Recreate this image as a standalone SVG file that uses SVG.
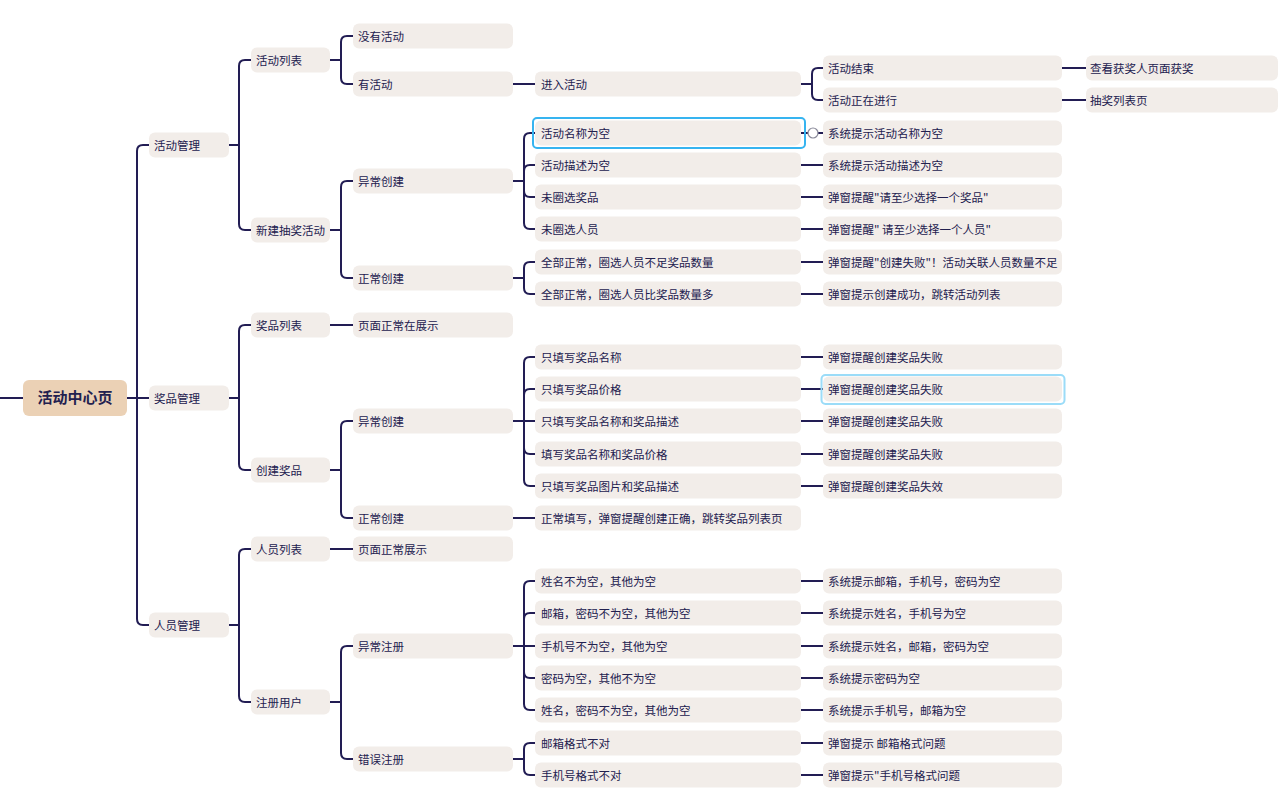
<svg xmlns="http://www.w3.org/2000/svg" width="1287" height="799" viewBox="0 0 1287 799">
<style>
.n rect{fill:#F2EDE9}
text{font-family:"Noto Sans CJK SC","Noto Sans",sans-serif;font-size:11.5px;fill:#22204F}
.n text{transform:translateY(1px)}
.c path{fill:none;stroke:#221D54;stroke-width:2}
.root rect{fill:#EBD1B5}
.root text{font-size:15px;font-weight:bold;text-anchor:middle}
</style>
<rect width="1287" height="799" fill="#fff"/>
<g class="c" id="connectors">
<path d="M0,398 H23 M127,398 H137 M137,398 V151 Q137,145 143,145 H149 M137,398 H149 M137,398 V619 Q137,625 143,625 H149"/>
<path d="M229,145 H239 M239,145 V66 Q239,60 245,60 H251 M239,145 V224 Q239,230 245,230 H251"/>
<path d="M229,398 H239 M239,398 V331 Q239,325 245,325 H251 M239,398 V464 Q239,470 245,470 H251"/>
<path d="M229,625 H239 M239,625 V555 Q239,549 245,549 H251 M239,625 V696 Q239,702 245,702 H251"/>
<path d="M330,60 H341 M341,60 V42 Q341,36 347,36 H353 M341,60 V78 Q341,84 347,84 H353"/>
<path d="M330,230 H341 M341,230 V187 Q341,181 347,181 H353 M341,230 V272 Q341,278 347,278 H353"/>
<path d="M330,325 H353"/>
<path d="M330,470 H341 M341,470 V427 Q341,421 347,421 H353 M341,470 V512 Q341,518 347,518 H353"/>
<path d="M330,549 H353"/>
<path d="M330,702 H341 M341,702 V652 Q341,646 347,646 H353 M341,702 V753 Q341,759 347,759 H353"/>
<path d="M513,84 H535"/>
<path d="M513,181 H524 M524,181 V139 Q524,133 530,133 H535 M524,181 V171 Q524,165 530,165 H535 M524,181 V191 Q524,197 530,197 H535 M524,181 V223 Q524,229 530,229 H535"/>
<path d="M513,278 H524 M524,278 V268 Q524,262 530,262 H535 M524,278 V288 Q524,294 530,294 H535"/>
<path d="M513,421 H535 M524,421 V363 Q524,357 530,357 H535 M524,421 V395 Q524,389 530,389 H535 M524,421 V448 Q524,454 530,454 H535 M524,421 V480 Q524,486 530,486 H535"/>
<path d="M513,518 H535"/>
<path d="M513,646 H535 M524,646 V587 Q524,581 530,581 H535 M524,646 V619 Q524,613 530,613 H535 M524,646 V672 Q524,678 530,678 H535 M524,646 V704 Q524,710 530,710 H535"/>
<path d="M513,759 H524 M524,759 V749 Q524,743 530,743 H535 M524,759 V769 Q524,775 530,775 H535"/>
<path d="M801,84 H812 M812,84 V74 Q812,68 818,68 H823 M812,84 V94 Q812,100 818,100 H823"/>
<path d="M801,133 H823 M801,165 H823 M801,197 H823 M801,229 H823 M801,262 H823 M801,294 H823 M801,357 H823 M801,389 H823 M801,421 H823 M801,454 H823 M801,486 H823 M801,581 H823 M801,613 H823 M801,646 H823 M801,678 H823 M801,710 H823 M801,743 H823 M801,775 H823"/>
<path d="M1062,68 H1086 M1062,100 H1086"/>
</g>
<g id="root" class="root"><rect x="23" y="380" width="104" height="36" rx="6"/><text x="75" y="403">活动中心页</text></g>
<g id="l1a" class="n"><rect x="149" y="132.5" width="80" height="25" rx="6"/><text x="154" y="149">活动管理</text></g>
<g id="l1b" class="n"><rect x="149" y="385.5" width="80" height="25" rx="6"/><text x="154" y="402">奖品管理</text></g>
<g id="l1c" class="n"><rect x="149" y="612.5" width="80" height="25" rx="6"/><text x="154" y="629">人员管理</text></g>
<g id="l2a" class="n"><rect x="251" y="47.5" width="79" height="25" rx="6"/><text x="256" y="64">活动列表</text></g>
<g id="l2b" class="n"><rect x="251" y="217.5" width="79" height="25" rx="6"/><text x="256" y="234">新建抽奖活动</text></g>
<g id="l2c" class="n"><rect x="251" y="312.5" width="79" height="25" rx="6"/><text x="256" y="329">奖品列表</text></g>
<g id="l2d" class="n"><rect x="251" y="457.5" width="79" height="25" rx="6"/><text x="256" y="474">创建奖品</text></g>
<g id="l2e" class="n"><rect x="251" y="536.5" width="79" height="25" rx="6"/><text x="256" y="553">人员列表</text></g>
<g id="l2f" class="n"><rect x="251" y="689.5" width="79" height="25" rx="6"/><text x="256" y="706">注册用户</text></g>
<g id="l3a" class="n"><rect x="353" y="23.5" width="160" height="25" rx="6"/><text x="358" y="40">没有活动</text></g>
<g id="l3b" class="n"><rect x="353" y="71.5" width="160" height="25" rx="6"/><text x="358" y="88">有活动</text></g>
<g id="l3c" class="n"><rect x="353" y="168.5" width="160" height="25" rx="6"/><text x="358" y="185">异常创建</text></g>
<g id="l3d" class="n"><rect x="353" y="265.5" width="160" height="25" rx="6"/><text x="358" y="282">正常创建</text></g>
<g id="l3e" class="n"><rect x="353" y="312.5" width="160" height="25" rx="6"/><text x="358" y="329">页面正常在展示</text></g>
<g id="l3f" class="n"><rect x="353" y="408.5" width="160" height="25" rx="6"/><text x="358" y="425">异常创建</text></g>
<g id="l3g" class="n"><rect x="353" y="505.5" width="160" height="25" rx="6"/><text x="358" y="522">正常创建</text></g>
<g id="l3h" class="n"><rect x="353" y="536.5" width="160" height="25" rx="6"/><text x="358" y="553">页面正常展示</text></g>
<g id="l3i" class="n"><rect x="353" y="633.5" width="160" height="25" rx="6"/><text x="358" y="650">异常注册</text></g>
<g id="l3j" class="n"><rect x="353" y="746.5" width="160" height="25" rx="6"/><text x="358" y="763">错误注册</text></g>
<g id="l4a" class="n"><rect x="535" y="71.5" width="266" height="25" rx="6"/><text x="541" y="88">进入活动</text></g>
<g id="l4b" class="n"><rect x="535" y="120.5" width="266" height="25" rx="6"/><rect x="533" y="118" width="272" height="30" rx="4" stroke="#36B4F0" stroke-width="2" style="fill:none"/><text x="541" y="137">活动名称为空</text></g>
<g id="l4c" class="n"><rect x="535" y="152.5" width="266" height="25" rx="6"/><text x="541" y="169">活动描述为空</text></g>
<g id="l4d" class="n"><rect x="535" y="184.5" width="266" height="25" rx="6"/><text x="541" y="201">未圈选奖品</text></g>
<g id="l4e" class="n"><rect x="535" y="216.5" width="266" height="25" rx="6"/><text x="541" y="233">未圈选人员</text></g>
<g id="l4f" class="n"><rect x="535" y="249.5" width="266" height="25" rx="6"/><text x="541" y="266">全部正常，圈选人员不足奖品数量</text></g>
<g id="l4g" class="n"><rect x="535" y="281.5" width="266" height="25" rx="6"/><text x="541" y="298">全部正常，圈选人员比奖品数量多</text></g>
<g id="l4h" class="n"><rect x="535" y="344.5" width="266" height="25" rx="6"/><text x="541" y="361">只填写奖品名称</text></g>
<g id="l4i" class="n"><rect x="535" y="376.5" width="266" height="25" rx="6"/><text x="541" y="393">只填写奖品价格</text></g>
<g id="l4j" class="n"><rect x="535" y="408.5" width="266" height="25" rx="6"/><text x="541" y="425">只填写奖品名称和奖品描述</text></g>
<g id="l4k" class="n"><rect x="535" y="441.5" width="266" height="25" rx="6"/><text x="541" y="458">填写奖品名称和奖品价格</text></g>
<g id="l4l" class="n"><rect x="535" y="473.5" width="266" height="25" rx="6"/><text x="541" y="490">只填写奖品图片和奖品描述</text></g>
<g id="l4m" class="n"><rect x="535" y="505.5" width="266" height="25" rx="6"/><text x="541" y="522">正常填写，弹窗提醒创建正确，跳转奖品列表页</text></g>
<g id="l4n" class="n"><rect x="535" y="568.5" width="266" height="25" rx="6"/><text x="541" y="585">姓名不为空，其他为空</text></g>
<g id="l4o" class="n"><rect x="535" y="600.5" width="266" height="25" rx="6"/><text x="541" y="617">邮箱，密码不为空，其他为空</text></g>
<g id="l4p" class="n"><rect x="535" y="633.5" width="266" height="25" rx="6"/><text x="541" y="650">手机号不为空，其他为空</text></g>
<g id="l4q" class="n"><rect x="535" y="665.5" width="266" height="25" rx="6"/><text x="541" y="682">密码为空，其他不为空</text></g>
<g id="l4r" class="n"><rect x="535" y="697.5" width="266" height="25" rx="6"/><text x="541" y="714">姓名，密码不为空，其他为空</text></g>
<g id="l4s" class="n"><rect x="535" y="730.5" width="266" height="25" rx="6"/><text x="541" y="747">邮箱格式不对</text></g>
<g id="l4t" class="n"><rect x="535" y="762.5" width="266" height="25" rx="6"/><text x="541" y="779">手机号格式不对</text></g>
<circle cx="813" cy="133" r="5" fill="#fff" stroke="#8A8A9A" stroke-width="1.2"/>
<g id="l5a" class="n"><rect x="823" y="55.5" width="239" height="25" rx="6"/><text x="828" y="72">活动结束</text></g>
<g id="l5b" class="n"><rect x="823" y="87.5" width="239" height="25" rx="6"/><text x="828" y="104">活动正在进行</text></g>
<g id="l5c" class="n"><rect x="823" y="120.5" width="239" height="25" rx="6"/><text x="828" y="137">系统提示活动名称为空</text></g>
<g id="l5d" class="n"><rect x="823" y="152.5" width="239" height="25" rx="6"/><text x="828" y="169">系统提示活动描述为空</text></g>
<g id="l5e" class="n"><rect x="823" y="184.5" width="239" height="25" rx="6"/><text x="828" y="201">弹窗提醒"请至少选择一个奖品"</text></g>
<g id="l5f" class="n"><rect x="823" y="216.5" width="239" height="25" rx="6"/><text x="828" y="233">弹窗提醒" 请至少选择一个人员"</text></g>
<g id="l5g" class="n"><rect x="823" y="249.5" width="239" height="25" rx="6"/><text x="828" y="266">弹窗提醒"创建失败"！活动关联人员数量不足</text></g>
<g id="l5h" class="n"><rect x="823" y="281.5" width="239" height="25" rx="6"/><text x="828" y="298">弹窗提示创建成功，跳转活动列表</text></g>
<g id="l5i" class="n"><rect x="823" y="344.5" width="239" height="25" rx="6"/><text x="828" y="361">弹窗提醒创建奖品失败</text></g>
<g id="l5j" class="n"><rect x="823" y="376.5" width="239" height="25" rx="6"/><rect x="821.5" y="375" width="243" height="29" rx="4" stroke="#9BDCF8" stroke-width="2" style="fill:none"/><text x="828" y="393">弹窗提醒创建奖品失败</text></g>
<g id="l5k" class="n"><rect x="823" y="408.5" width="239" height="25" rx="6"/><text x="828" y="425">弹窗提醒创建奖品失败</text></g>
<g id="l5l" class="n"><rect x="823" y="441.5" width="239" height="25" rx="6"/><text x="828" y="458">弹窗提醒创建奖品失败</text></g>
<g id="l5m" class="n"><rect x="823" y="473.5" width="239" height="25" rx="6"/><text x="828" y="490">弹窗提醒创建奖品失效</text></g>
<g id="l5n" class="n"><rect x="823" y="568.5" width="239" height="25" rx="6"/><text x="828" y="585">系统提示邮箱，手机号，密码为空</text></g>
<g id="l5o" class="n"><rect x="823" y="600.5" width="239" height="25" rx="6"/><text x="828" y="617">系统提示姓名，手机号为空</text></g>
<g id="l5p" class="n"><rect x="823" y="633.5" width="239" height="25" rx="6"/><text x="828" y="650">系统提示姓名，邮箱，密码为空</text></g>
<g id="l5q" class="n"><rect x="823" y="665.5" width="239" height="25" rx="6"/><text x="828" y="682">系统提示密码为空</text></g>
<g id="l5r" class="n"><rect x="823" y="697.5" width="239" height="25" rx="6"/><text x="828" y="714">系统提示手机号，邮箱为空</text></g>
<g id="l5s" class="n"><rect x="823" y="730.5" width="239" height="25" rx="6"/><text x="828" y="747">弹窗提示 邮箱格式问题</text></g>
<g id="l5t" class="n"><rect x="823" y="762.5" width="239" height="25" rx="6"/><text x="828" y="779">弹窗提示"手机号格式问题</text></g>
<g id="l6a" class="n"><rect x="1086" y="55.5" width="192" height="25" rx="6"/><text x="1090" y="72">查看获奖人页面获奖</text></g>
<g id="l6b" class="n"><rect x="1086" y="87.5" width="192" height="25" rx="6"/><text x="1090" y="104">抽奖列表页</text></g>
</svg>
